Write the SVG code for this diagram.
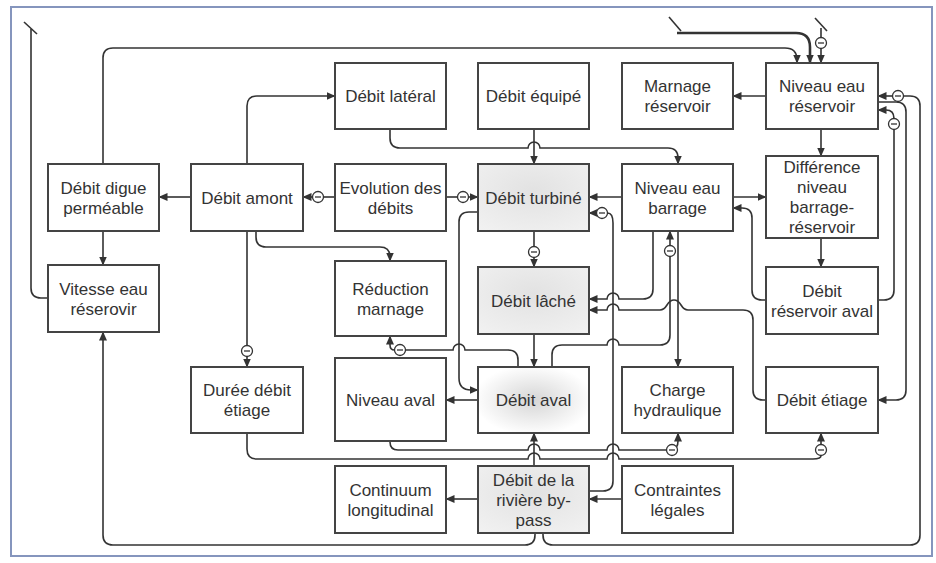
<svg xmlns="http://www.w3.org/2000/svg" width="936" height="563" viewBox="0 0 936 563">
<style>
.box{fill:#fff;stroke:#444;stroke-width:2}
.sh{fill:url(#gs)}
.av{fill:url(#ga)}
text{font-family:"Liberation Sans",Arial,sans-serif;font-size:17px;fill:#333;text-anchor:middle}
.c path{fill:none;stroke:#333;stroke-width:1.6}
.c path.a{marker-end:url(#ah)}
.c path.thick{stroke-width:2.6}
</style>
<defs>
<marker id="ah" markerUnits="userSpaceOnUse" markerWidth="9" markerHeight="8" refX="8.5" refY="4" orient="auto"><path d="M0,0 L9,4 L0,8 z" fill="#333"/></marker>
<g id="mn"><circle r="5.5" fill="#fff" stroke="#333" stroke-width="1.3"/><path d="M-3,0H3" stroke="#333" stroke-width="1.3"/></g>
<radialGradient id="gs" cx="0.5" cy="0.4" r="0.75"><stop offset="0" stop-color="#e2e2e2"/><stop offset="1" stop-color="#f1f1f1"/></radialGradient>
<radialGradient id="ga" cx="0.5" cy="0.5" r="0.55"><stop offset="0" stop-color="#d6d6d6"/><stop offset="1" stop-color="#fff"/></radialGradient>
</defs>
<rect x="0" y="0" width="936" height="563" fill="#fff"/>
<rect x="11" y="7" width="921" height="549" fill="#fff" stroke="#8595bd" stroke-width="2"/>

<g class="c" id="connectors">
<path d="M48,298 H41 Q31,298 31,288 V29"/>
<path d="M24,22 L37,34"/>
<path class="a" d="M103,164 V58 Q103,48 113,48 H785 Q797,48 797,60 V63"/>
<path class="a" d="M247,164 V106 Q247,96 257,96 H335"/>
<path d="M669,17 L681,31"/>
<path class="a thick" d="M677,33 H796 Q810,33 810,47 V63"/>
<path d="M815,18 L827,31"/>
<path d="M821,28 V37.5"/>
<path class="a" d="M821,48.5 V63"/>
<path class="a" d="M766,96 H733"/>
<path class="a" d="M821,129 V156"/>
<path class="a" d="M390,129 V138 Q390,148 400,148 H528 a6,6 0 0 1 12,0 H668 Q678,148 678,158 V164"/>
<path class="a" d="M534,129 V164"/>
<path class="a" d="M191,197 H159"/>
<path d="M335,197 H323.5"/>
<path class="a" d="M312.5,197 H303"/>
<path d="M446,197 H457.5"/>
<path class="a" d="M468.5,197 H478"/>
<path class="a" d="M622,197 H589"/>
<path class="a" d="M733,197 H766"/>
<path class="a" d="M766,300 H762 Q752,300 752,290 V218 Q752,208 742,208 H733"/>
<path class="a" d="M821,238 V267"/>
<path class="a" d="M256,231 V237 Q256,247 266,247 H380 Q390,247 390,257 V261"/>
<path d="M247,231 V345.5"/>
<path class="a" d="M247,356.5 V367"/>
<path class="a" d="M103,231 V265"/>
<path class="a" d="M535,533 V535 Q535,545 525,545 H113 Q103,545 103,535 V332"/>
<path d="M543,533 V535 Q543,545 553,545 H910 Q920,545 920,535 V106 Q920,96 910,96 H903.5"/>
<path class="a" d="M892.5,96 H878"/>
<path class="a" d="M878,102 H896 Q906,102 906,112 V390 Q906,400 896,400 H878"/>
<path d="M878,300 H884 Q894,300 894,290 V129.5"/>
<path class="a" d="M894,118.5 Q894,110 886,110 H878"/>
<path class="a" d="M678,231 V367"/>
<path d="M552,367 V355 Q552,345 562,345 H607 a6,6 0 0 1 12,0 H660 Q670,345 670,335 V256.5"/>
<path class="a" d="M670,245.5 V231"/>
<path class="a" d="M478,212 H469 Q459,212 459,222 V378 Q459,390 471,390 H478"/>
<path d="M589,491 H603 Q613,491 613,481 V223 Q613,213 607.5,213"/>
<path class="a" d="M596.5,213 H589"/>
<path class="a" d="M534,334 V367"/>
<path d="M534,231 V246.5"/>
<path class="a" d="M534,257.5 V267"/>
<path class="a" d="M653,231 V289 Q653,299 643,299 H619 a6,6 0 0 0 -12,0 H589"/>
<path class="a" d="M766,400 H763 Q753,400 753,390 V320 Q753,310 743,310 H688 C680,310 682,300 674,300 C666,300 668,310 660,310 H619 a6,6 0 0 0 -12,0 H589"/>
<path d="M518,367 V360 Q518,350 508,350 H465 a6,6 0 0 0 -12,0 H405.5"/>
<path class="a" d="M394.5,350 Q390,350 390,345 V336"/>
<path class="a" d="M478,400 H446"/>
<path d="M390,441 V442 Q390,450 398,450 H528 a6,6 0 0 1 12,0 H607 a6,6 0 0 1 12,0 H666.5"/>
<path class="a" d="M676.5,447 Q678,445 678,441 V433"/>
<path d="M247,433 V449 Q247,459 257,459 H528 a6,6 0 0 1 12,0 H607 a6,6 0 0 1 12,0 H813 Q821,459 821,455.5"/>
<path class="a" d="M821,444.5 V433"/>
<path class="a" d="M534,466 V433"/>
<path class="a" d="M478,499 H446"/>
<path class="a" d="M622,499 H589"/>
</g>

<g id="minus-signs">
<use href="#mn" x="821" y="43"/>
<use href="#mn" x="318" y="197"/>
<use href="#mn" x="463" y="197"/>
<use href="#mn" x="898" y="96"/>
<use href="#mn" x="894" y="124"/>
<use href="#mn" x="247" y="351"/>
<use href="#mn" x="534" y="252"/>
<use href="#mn" x="602" y="213"/>
<use href="#mn" x="670" y="251"/>
<use href="#mn" x="400" y="350"/>
<use href="#mn" x="672" y="450"/>
<use href="#mn" x="821" y="450"/>
</g>

<g id="n-lat"><rect class="box" x="335" y="63" width="111" height="66"/><text x="390.5" y="102">Débit latéral</text></g>
<g id="n-equ"><rect class="box" x="478" y="63" width="111" height="66"/><text x="533.5" y="102">Débit équipé</text></g>
<g id="n-marres"><rect class="box" x="622" y="63" width="111" height="66"/><text x="677.5" y="92">Marnage</text><text x="677.5" y="112">réservoir</text></g>
<g id="n-nivres"><rect class="box" x="766" y="63" width="112" height="66"/><text x="822" y="92">Niveau eau</text><text x="822" y="112">réservoir</text></g>
<g id="n-digue"><rect class="box" x="48" y="164" width="111" height="67"/><text x="103.5" y="193.5">Débit digue</text><text x="103.5" y="213.5">perméable</text></g>
<g id="n-amont"><rect class="box" x="191" y="164" width="112" height="67"/><text x="247" y="203.5">Débit amont</text></g>
<g id="n-evol"><rect class="box" x="335" y="164" width="111" height="67"/><text x="390.5" y="193.5">Evolution des</text><text x="390.5" y="213.5">débits</text></g>
<g id="n-turb"><rect class="box" x="478" y="164" width="111" height="67"/><rect class="sh" x="479" y="165" width="109" height="65"/><text x="533.5" y="203.5">Débit turbiné</text></g>
<g id="n-nivbar"><rect class="box" x="622" y="164" width="111" height="67"/><text x="677.5" y="193.5">Niveau eau</text><text x="677.5" y="213.5">barrage</text></g>
<g id="n-diff"><rect class="box" x="766" y="156" width="112" height="82"/><text x="822" y="173">Différence</text><text x="822" y="193">niveau</text><text x="822" y="213">barrage-</text><text x="822" y="233">réservoir</text></g>
<g id="n-vit"><rect class="box" x="48" y="265" width="111" height="67"/><text x="103.5" y="294.5">Vitesse eau</text><text x="103.5" y="314.5">réserovir</text></g>
<g id="n-reduc"><rect class="box" x="335" y="261" width="111" height="75"/><text x="390.5" y="294.5">Réduction</text><text x="390.5" y="314.5">marnage</text></g>
<g id="n-lache"><rect class="box" x="478" y="267" width="111" height="67"/><rect class="sh" x="479" y="268" width="109" height="65"/><text x="533.5" y="306.5">Débit lâché</text></g>
<g id="n-resaval"><rect class="box" x="766" y="267" width="112" height="67"/><text x="822" y="296.5">Débit</text><text x="822" y="316.5">réservoir aval</text></g>
<g id="n-duree"><rect class="box" x="191" y="367" width="112" height="66"/><text x="247" y="396">Durée débit</text><text x="247" y="416">étiage</text></g>
<g id="n-nivaval"><rect class="box" x="335" y="358" width="111" height="83"/><text x="390.5" y="405.5">Niveau aval</text></g>
<g id="n-aval"><rect class="box" x="478" y="367" width="111" height="66"/><rect class="av" x="479" y="368" width="109" height="64"/><text x="533.5" y="406">Débit aval</text></g>
<g id="n-charge"><rect class="box" x="622" y="367" width="111" height="66"/><text x="677.5" y="396">Charge</text><text x="677.5" y="416">hydraulique</text></g>
<g id="n-etiage"><rect class="box" x="766" y="367" width="112" height="66"/><text x="822" y="406">Débit étiage</text></g>
<g id="n-contin"><rect class="box" x="335" y="466" width="111" height="67"/><text x="390.5" y="495.5">Continuum</text><text x="390.5" y="515.5">longitudinal</text></g>
<g id="n-bypass"><rect class="box" x="478" y="466" width="111" height="67"/><rect class="sh" x="479" y="467" width="109" height="65"/><text x="533.5" y="485.5">Débit de la</text><text x="533.5" y="505.5">rivière by-</text><text x="533.5" y="525.5">pass</text></g>
<g id="n-contr"><rect class="box" x="622" y="466" width="111" height="67"/><text x="677.5" y="495.5">Contraintes</text><text x="677.5" y="515.5">légales</text></g>
</svg>
